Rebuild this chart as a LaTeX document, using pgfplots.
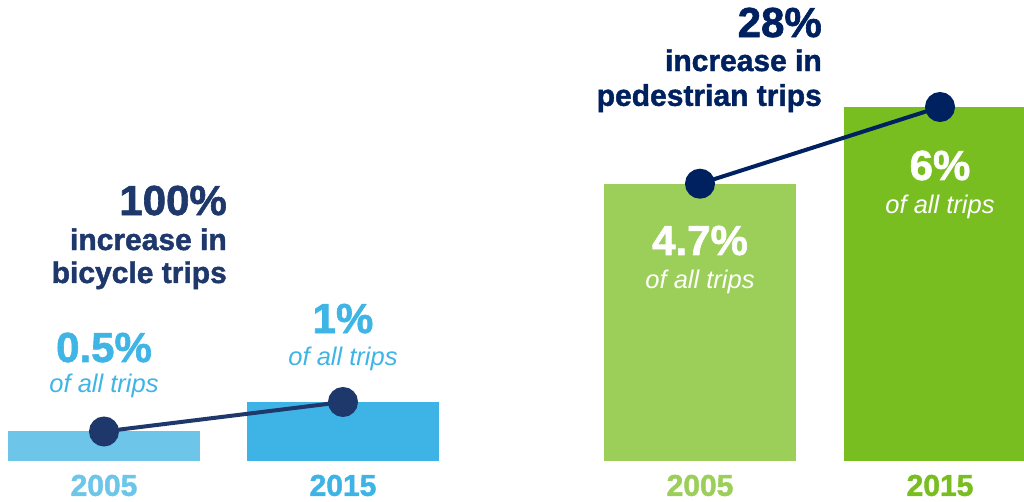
\documentclass[border=0pt]{standalone}
\usepackage{fontspec}
\setmainfont{Liberation Sans}[BoldFeatures={FakeBold=1.5}]
\usepackage{pgfplots}
\pgfplotsset{compat=1.18}
\definecolor{bA}{HTML}{6DC5EA}
\definecolor{bB}{HTML}{3DB4E5}
\definecolor{gA}{HTML}{9BCF5A}
\definecolor{gB}{HTML}{78BE20}
\definecolor{navyL}{HTML}{1F386C}
\definecolor{navyR}{HTML}{00215F}
\definecolor{txtB}{HTML}{3FB5E6}
\newcommand{\fBig}{\fontsize{42}{42}\selectfont\bfseries}
\newcommand{\fMid}{\fontsize{30}{30}\selectfont\bfseries}
\newcommand{\fSub}{\fontsize{25.5}{26}\selectfont\itshape}
\begin{document}
\begin{tikzpicture}
\path[use as bounding box] (0,0) rectangle (1024pt,502pt);
\begin{axis}[
  at={(0,0)}, anchor=south west,
  scale only axis, width=1024pt, height=502pt,
  xmin=0, xmax=1024, ymin=-0.6949, ymax=7.8136,
  hide axis,
]
\addplot[ybar, bar width=192pt, bar shift=0pt, fill=bA, draw=none] coordinates {(104,0.5)};
\addplot[ybar, bar width=192pt, bar shift=0pt, fill=bB, draw=none] coordinates {(343,1)};
\addplot[ybar, bar width=192pt, bar shift=0pt, fill=gA, draw=none] coordinates {(700,4.7)};
\addplot[ybar, bar width=192pt, bar shift=0pt, fill=gB, draw=none] coordinates {(940,6)};
\addplot[navyL, line width=4pt, mark=*, mark size=13pt, mark options={fill=navyL, draw=none}] coordinates {(104,0.5) (343,1)};
\addplot[navyR, line width=4pt, mark=*, mark size=13pt, mark options={fill=navyR, draw=none}] coordinates {(700,4.7) (940,6)};

% bicycle annotation
\node[anchor=base east, text=navyL, inner sep=0pt, font=\fBig] at (axis cs:227,4.169) {100\%};
\node[anchor=base east, text=navyL, inner sep=0pt, font=\fMid] at (axis cs:227,3.576) {increase in};
\node[anchor=base east, text=navyL, inner sep=0pt, font=\fMid] at (axis cs:227,3.017) {bicycle trips};
% pedestrian annotation
\node[anchor=base east, text=navyR, inner sep=0pt, font=\fBig] at (axis cs:822,7.186) {28\%};
\node[anchor=base east, text=navyR, inner sep=0pt, font=\fMid] at (axis cs:822,6.610) {increase in};
\node[anchor=base east, text=navyR, inner sep=0pt, font=\fMid] at (axis cs:822,6.02) {pedestrian trips};
% value labels
\node[anchor=base, text=txtB, inner sep=0pt, font=\fBig] at (axis cs:104,1.678) {0.5\%};
\node[anchor=base, text=txtB, inner sep=0pt, font=\fSub] at (axis cs:104,1.153) {of all trips};
\node[anchor=base, text=txtB, inner sep=0pt, font=\fBig] at (axis cs:343,2.169) {1\%};
\node[anchor=base, text=txtB, inner sep=0pt, font=\fSub] at (axis cs:343,1.627) {of all trips};
\node[anchor=base, text=white, inner sep=0pt, font=\fBig] at (axis cs:700,3.492) {4.7\%};
\node[anchor=base, text=white, inner sep=0pt, font=\fSub] at (axis cs:700,2.932) {of all trips};
\node[anchor=base, text=white, inner sep=0pt, font=\fBig] at (axis cs:940,4.763) {6\%};
\node[anchor=base, text=white, inner sep=0pt, font=\fSub] at (axis cs:940,4.203) {of all trips};
% years
\node[anchor=base, text=bA, inner sep=0pt, font=\fMid] at (axis cs:104,-0.59) {2005};
\node[anchor=base, text=bB, inner sep=0pt, font=\fMid] at (axis cs:343,-0.59) {2015};
\node[anchor=base, text=gA, inner sep=0pt, font=\fMid] at (axis cs:700,-0.59) {2005};
\node[anchor=base, text=gB, inner sep=0pt, font=\fMid] at (axis cs:940,-0.59) {2015};
\end{axis}
\end{tikzpicture}
\end{document}
